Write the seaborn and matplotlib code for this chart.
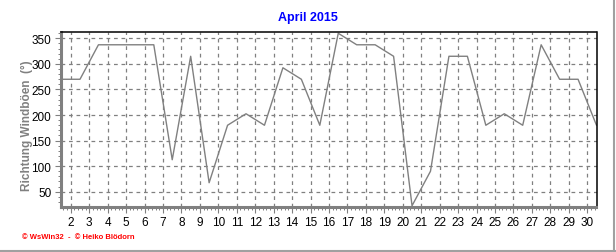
import matplotlib
matplotlib.use("Agg")
import matplotlib.pyplot as plt
from matplotlib.ticker import MultipleLocator, FixedLocator
from matplotlib.lines import Line2D
import seaborn as sns
import pandas as pd

# Data
days = [1, 2, 3, 4, 5, 6, 7, 8, 9, 10, 11, 12, 13, 14, 15,
        16, 17, 18, 19, 20, 21, 22, 23, 24, 25, 26, 27, 28, 29, 30]
direction = [270, 270, 337.5, 337.5, 337.5, 337.5, 112.5, 315, 67.5, 180,
             202.5, 180, 292.5, 270, 180, 360, 337.5, 337.5, 315, 22.5,
             90, 315, 315, 180, 202.5, 180, 337.5, 270, 270, 180]
x_ticks = [2, 3, 4, 5, 6, 7, 8, 9, 10, 11, 12, 13, 14, 15, 16,
           17, 18, 19, 20, 21, 22, 23, 24, 25, 26, 27, 28, 29, 30]
y_ticks = [50, 100, 150, 200, 250, 300, 350]
title = "April 2015"
ylabel = "Richtung Windböen  (°)"
footer = "© WsWin32  -  © Heiko Blödorn"

sns.set_theme(style="white")
plt.rcParams['font.family'] = ['Liberation Sans', 'DejaVu Sans']

df = pd.DataFrame({"pos": [d + 0.5 for d in days], "val": direction})

fig = plt.figure(figsize=(6.16, 2.53), dpi=100)
ax = fig.add_axes([61 / 616, 1 - 207.5 / 253, (596.5 - 61) / 616, (207.5 - 33) / 253])

sns.lineplot(data=df, x="pos", y="val", ax=ax, color="#808080", linewidth=1.0)

ax.set_xlim(1.47, 30.5)
ax.set_ylim(21, 362.5)
ax.xaxis.set_major_locator(FixedLocator(x_ticks))
ax.xaxis.set_minor_locator(MultipleLocator(0.2))
ax.yaxis.set_major_locator(FixedLocator(y_ticks))
ax.yaxis.set_minor_locator(MultipleLocator(10))
ax.set_xticklabels([str(t) for t in x_ticks])

ax.grid(True, which="major", color="#808080", linestyle=(0, (3, 3)), linewidth=0.9)

ax.tick_params(axis="both", which="major", direction="out", length=4, width=0.8,
               color="#808080", labelsize=8.5, labelcolor="black", pad=3,
               bottom=True, left=True)
ax.tick_params(axis="both", which="minor", direction="out", length=2, width=0.7,
               color="#808080", bottom=True, left=True)

for side in ["left", "bottom"]:
    ax.spines[side].set_color("#808080")
    ax.spines[side].set_linewidth(2.2)
for side in ["top", "right"]:
    ax.spines[side].set_color("black")
    ax.spines[side].set_linewidth(1.1)

ax.set_xlabel("")
ax.set_ylabel(ylabel, color="#808080", fontsize=8.5, fontweight="bold")
ax.yaxis.set_label_coords((33 - 61) / 535.5, 0.47)

fig.text(308 / 616, 1 - 18 / 253, title, color="#0000FF", fontsize=9,
         fontweight="bold", ha="center", va="center")
fig.text(22 / 616, 1 - 238 / 253, footer, color="#FF0000", fontsize=5.5,
         fontweight="bold", ha="left", va="center")

# figure border (bottom and right)
fig.add_artist(Line2D([0, 1], [1.5 / 253, 1.5 / 253], transform=fig.transFigure,
                      color="#A0A0A0", linewidth=1.5))
fig.add_artist(Line2D([613.5 / 616, 613.5 / 616], [0, 1], transform=fig.transFigure,
                      color="#A0A0A0", linewidth=1.5))

fig.savefig("out.png", dpi=100)
